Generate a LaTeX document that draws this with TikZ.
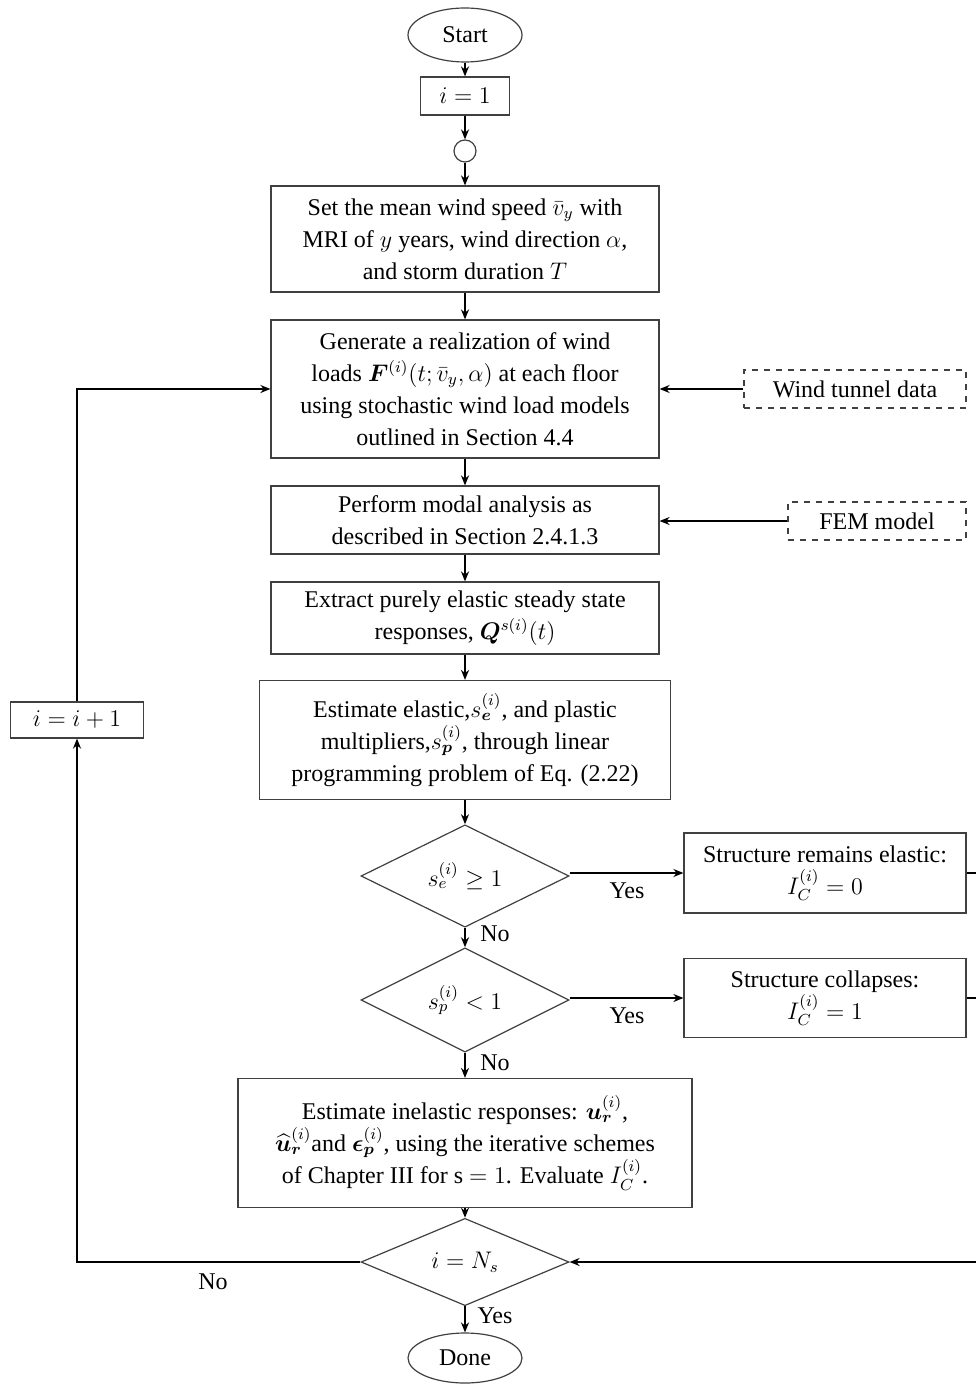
\documentclass[tikz,border=0pt]{standalone}
\usepackage{amsmath,bm}
\usepackage{fontspec}
\setmainfont{Liberation Serif}
\usetikzlibrary{shapes.geometric,arrows.meta}
\begin{document}
\begin{tikzpicture}[x=0.5pt,y=-0.5pt,
  every node/.style={font=\fontsize{12}{16}\selectfont},
  box/.style={draw=black!75,line width=0.6pt,align=center,inner sep=0pt,fill=white},
  dbox/.style={box,dashed},
  dia/.style={draw=black!75,line width=0.6pt,diamond,inner sep=0pt,minimum width=104pt,minimum height=48pt},
  term/.style={draw=black!75,line width=0.6pt,ellipse,inner sep=0pt,minimum width=57pt},
  conn/.style={line width=1pt,-{Stealth[length=5pt,width=4pt]}},
  line/.style={line width=1pt},
  lab/.style={inner sep=0pt}]
\useasboundingbox (0,0) rectangle (976,1385);
\node[term,minimum height=27pt] (start) at (465,35) {Start};
\node[box,minimum width=44.5pt,minimum height=19pt] (i1) at (465,96) {$i=1$};
\node[draw=black!75,line width=0.6pt,circle,inner sep=0pt,minimum size=11pt] (c) at (465,151) {};
\node[box,minimum width=194pt,minimum height=53pt] (b1) at (465,239)
  {Set the mean wind speed $\bar{v}_y$ with\\ MRI of $y$ years, wind direction $\alpha$,\\ and storm duration $T$};
\node[box,minimum width=194pt,minimum height=69pt] (b2) at (465,389)
  {Generate a realization of wind\\ loads $\bm{F}^{(i)}(t;\bar{v}_y,\alpha)$ at each floor\\ using stochastic wind load models\\ outlined in Section 4.4};
\node[dbox,minimum width=111pt,minimum height=19pt] (wt) at (855,389) {Wind tunnel data};
\node[box,minimum width=194pt,minimum height=34pt] (b3) at (465,520)
  {Perform modal analysis as\\ described in Section 2.4.1.3};
\node[dbox,minimum width=89pt,minimum height=19pt] (fem) at (877,521) {FEM model};
\node[box,minimum width=194pt,minimum height=36pt] (b4) at (465,618)
  {Extract purely elastic steady state\\ responses, $\bm{Q}^{s(i)}(t)$};
\node[box,minimum width=205.5pt,minimum height=59.5pt] (b5) at (465,740)
  {Estimate elastic,$s_{\bm{e}}^{(i)}$, and plastic\\ multipliers,$s_{\bm{p}}^{(i)}$, through linear\\ programming problem of Eq. (2.22)};
\node[dia] (d1) at (465,876) {$s_e^{(i)}\geq 1$};
\node[box,minimum width=141pt,minimum height=40pt] (se) at (825,873)
  {Structure remains elastic:\\ $I_C^{(i)}=0$};
\node[dia] (d2) at (465,1000) {$s_p^{(i)}<1$};
\node[box,minimum width=141pt,minimum height=39.5pt] (sc) at (825,998)
  {Structure collapses:\\ $I_C^{(i)}=1$};
\node[box,minimum width=227pt,minimum height=64.5pt] (b6) at (465,1143)
  {Estimate inelastic responses: $\bm{u}_{\bm{r}}^{(i)}$,\\ $\widehat{\bm{u}}_{\bm{r}}^{(i)}$and $\bm{\epsilon}_{\bm{p}}^{(i)}$, using the iterative schemes\\ of Chapter III for s $=1$. Evaluate $I_C^{(i)}$.};
\node[dia,minimum height=40pt] (d3) at (465,1262) {$i=N_s$};
\node[term,minimum height=25pt] (done) at (465,1358) {Done};
\node[box,minimum width=66.5pt,minimum height=18pt] (inc) at (77,720) {$i=i+1$};
\coordinate (loopL) at (77,1262);
\coordinate (loopT) at (77,389);
\coordinate (r1) at (976,873);
\coordinate (r2) at (976,998);
\coordinate (r3) at (976,1262);
\draw[conn] (start) -- (i1);
\draw[conn] (i1) -- (c);
\draw[conn] (c) -- (b1);
\draw[conn] (b1) -- (b2);
\draw[conn] (b2) -- (b3);
\draw[conn] (b3) -- (b4);
\draw[conn] (b4) -- (b5);
\draw[conn] (b5) -- (d1);
\draw[conn] (d1) -- (d2);
\draw[conn] (d2) -- (b6);
\draw[conn] (b6) -- (d3);
\draw[conn] (d3) -- (done);
\draw[conn] (wt) -- (b2);
\draw[conn] (fem.west) -- (fem.west -| b3.east);
\draw[conn] (d1.east |- se.west) -- (se.west);
\draw[conn] (d2.east |- sc.west) -- (sc.west);
\draw[line] (se.east) -- (r1);
\draw[line] (sc.east) -- (r2);
\draw[conn] (r3) -- (d3.east);
\draw[conn] (d3.west) -- (loopL) -- (inc.south);
\draw[conn] (inc.north) -- (loopT) -- (b2.west);
\node[lab] (y1) at (627,891) {Yes};
\node[lab] (n1) at (495,934) {No};
\node[lab] (y2) at (627,1016) {Yes};
\node[lab] (n2) at (495,1063) {No};
\node[lab] (n3) at (213,1282) {No};
\node[lab] (y3) at (495,1316) {Yes};
\end{tikzpicture}
\end{document}
